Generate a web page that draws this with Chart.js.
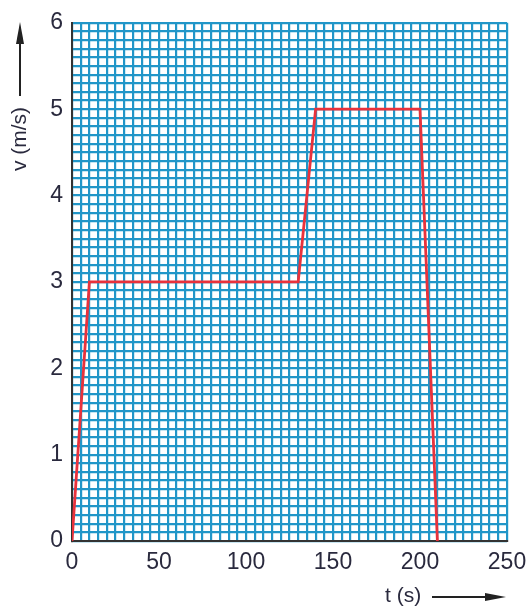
<!DOCTYPE html>
<html>
<head>
<meta charset="utf-8">
<script src="https://cdn.jsdelivr.net/npm/chart.js@4"></script>
<style>
  html, body { margin: 0; padding: 0; background: #fff; }
  #wrap { width: 528px; height: 608px; }
</style>
</head>
<body>
<div id="wrap"><canvas id="vtChart"></canvas></div>
<script>
// data
const times = [0, 10, 130, 140, 200, 210];   // t (s)
const speeds = [0, 3, 3, 5, 5, 0];           // v (m/s)

const xMin = 0, xMax = 250, xGridStep = 5, xLabelStep = 50;
const yMin = 0, yMax = 6, yGridStep = 0.1, yLabelStep = 1;

const xTitle = 't (s)';
const yTitle = 'v (m/s)';

const gridBlue = '#2196c8';
const tickColor = '#2a2a3e';
const fontFamily = "'Liberation Sans', Arial, Helvetica, sans-serif";

// axis titles with their arrows
const axisTitles = {
    id: 'axisTitles',
    afterDraw(chart) {
        const ctx = chart.ctx;
        ctx.save();
        ctx.fillStyle = tickColor;
        ctx.strokeStyle = '#222';
        ctx.font = '21px ' + fontFamily;

        // y title, rotated
        ctx.save();
        ctx.translate(20, 139);
        ctx.rotate(-Math.PI / 2);
        ctx.textAlign = 'center';
        ctx.textBaseline = 'middle';
        ctx.fillText(yTitle, 0, 0);
        ctx.restore();

        ctx.lineWidth = 2;
        ctx.beginPath();
        ctx.moveTo(20, 96);
        ctx.lineTo(20, 40);
        ctx.stroke();
        ctx.fillStyle = '#222';
        ctx.beginPath();
        ctx.moveTo(20, 22);
        ctx.lineTo(16, 44);
        ctx.lineTo(24, 44);
        ctx.closePath();
        ctx.fill();

        // x title
        ctx.fillStyle = tickColor;
        ctx.textAlign = 'left';
        ctx.textBaseline = 'middle';
        ctx.fillText(xTitle, 385, 596);

        ctx.beginPath();
        ctx.moveTo(432, 597);
        ctx.lineTo(488, 597);
        ctx.stroke();
        ctx.fillStyle = '#222';
        ctx.beginPath();
        ctx.moveTo(506, 597);
        ctx.lineTo(485, 593);
        ctx.lineTo(485, 601);
        ctx.closePath();
        ctx.fill();
        ctx.restore();
    }
};

const points = times.map((t, i) => ({ x: t, y: speeds[i] }));

const ctx = document.getElementById('vtChart').getContext('2d');
const vtChart = new Chart(ctx, {
    type: 'line',
    data: {
        datasets: [{
            data: points,
            borderColor: '#e8323c',
            borderWidth: 2.8,
            pointRadius: 0,
            tension: 0,
            fill: false
        }]
    },
    options: {
        responsive: true,
        maintainAspectRatio: false,
        animation: false,
        layout: { padding: { top: 21, right: 0, left: 0, bottom: 0 } },
        plugins: {
            legend: { display: false },
            tooltip: { enabled: false }
        },
        scales: {
            x: {
                type: 'linear',
                min: xMin,
                max: xMax,
                afterFit: s => { s.height = 67; s.paddingRight = 21; },
                ticks: {
                    stepSize: xGridStep,
                    autoSkip: false,
                    maxRotation: 0,
                    padding: 8,
                    color: tickColor,
                    font: { family: fontFamily, size: 23 },
                    callback: v => (Math.abs(v % xLabelStep) < 1e-9 ? String(v) : '')
                },
                grid: { color: gridBlue, lineWidth: 2.2, drawTicks: false },
                border: { color: '#333', width: 2 }
            },
            y: {
                min: yMin,
                max: yMax,
                afterFit: s => { s.width = 72; },
                ticks: {
                    stepSize: yGridStep,
                    autoSkip: false,
                    padding: 9,
                    color: tickColor,
                    font: { family: fontFamily, size: 23 },
                    callback: v => {
                        const r = Math.round(v / yLabelStep) * yLabelStep;
                        return Math.abs(v - r) < 1e-6 ? String(r) : '';
                    }
                },
                grid: { color: gridBlue, lineWidth: 2.2, drawTicks: false },
                border: { color: '#333', width: 2 }
            }
        }
    },
    plugins: [axisTitles]
});
</script>
</body>
</html>
